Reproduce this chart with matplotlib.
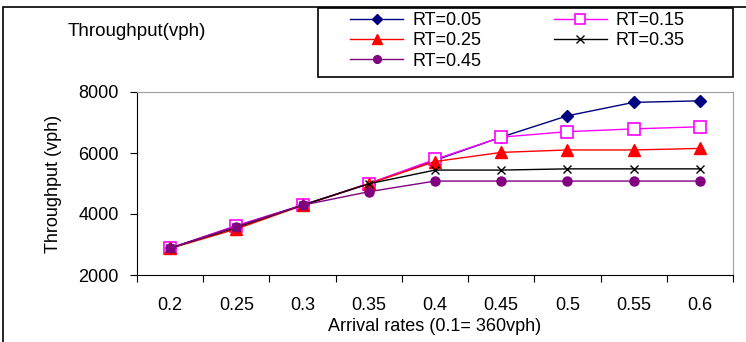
import numpy as np
import matplotlib
matplotlib.use("Agg")
import matplotlib.pyplot as plt
from matplotlib.patches import Rectangle

plt.rcParams["font.family"] = ["Liberation Sans", "DejaVu Sans"]

# arrival rates (categories) and throughput per reaction time
rates = ["0.2", "0.25", "0.3", "0.35", "0.4", "0.45", "0.5", "0.55", "0.6"]
rt_005 = [2880, 3600, 4290, 5000, 5760, 6520, 7220, 7660, 7710]
rt_015 = [2880, 3620, 4290, 5000, 5790, 6520, 6700, 6790, 6860]
rt_025 = [2870, 3510, 4280, 4990, 5720, 6020, 6100, 6100, 6150]
rt_035 = [2880, 3560, 4290, 4990, 5440, 5440, 5480, 5480, 5480]
rt_045 = [2880, 3590, 4290, 4730, 5080, 5080, 5080, 5080, 5080]

fig = plt.figure(figsize=(7.46, 3.42), dpi=100)
ax = fig.add_axes([137 / 746, 67 / 342, 596 / 746, 183 / 342])

x = np.arange(len(rates))
ax.plot(x, rt_005, color="#000080", lw=1.0, marker="D", ms=6, label="RT=0.05")
ax.plot(x, rt_015, color="#FF00FF", lw=1.0, marker="s", ms=8, mfc="white",
        mec="#FF00FF", mew=1.2, label="RT=0.15")
ax.plot(x, rt_025, color="#FF0000", lw=1.0, marker="^", ms=8, label="RT=0.25")
ax.plot(x, rt_035, color="#000000", lw=1.0, marker="x", ms=6, mew=1.0, label="RT=0.35")
ax.plot(x, rt_045, color="#800080", lw=1.0, marker="o", ms=6.5, label="RT=0.45")

ax.set_xlim(-0.5, len(rates) - 0.5)
ax.set_ylim(2000, 8000)
ax.set_yticks([2000, 4000, 6000, 8000])
ax.set_xticks(np.arange(len(rates) + 1) - 0.5)
ax.set_xticklabels([])
ax.set_xticks(x, minor=True)
ax.set_xticklabels(rates, minor=True)
ax.tick_params(axis="x", which="major", direction="out", length=5, color="black")
ax.tick_params(axis="x", which="minor", length=0, pad=16, labelsize=13)
ax.tick_params(axis="y", direction="out", length=5, labelsize=13, pad=8)

ax.spines["top"].set_color("#A0A0A0")
ax.spines["right"].set_color("#A0A0A0")
ax.spines["left"].set_color("black")
ax.spines["bottom"].set_color("black")

ax.set_xlabel("Arrival rates (0.1= 360vph)", fontsize=13, labelpad=3)
ax.set_ylabel("Throughput (vph)", fontsize=13, labelpad=12)

fig.text(68 / 746, 1 - 32 / 342, "Throughput(vph)", fontsize=13.5,
         ha="left", va="center")

# outer frame
fig.patches.append(Rectangle((3 / 746, -0.1), 1.2, 1 - 7 / 342 + 0.1,
                             transform=fig.transFigure, fill=False,
                             edgecolor="black", lw=1.2))

# legend frame
fig.patches.append(Rectangle((318 / 746, 1 - 77 / 342), 415 / 746, 69 / 342,
                             transform=fig.transFigure, fill=False,
                             edgecolor="black", lw=1.2))

h, l = ax.get_legend_handles_labels()
order = [0, 2, 4, 1, 3]
leg = fig.legend([h[i] for i in order], [l[i] for i in order], ncol=2,
                 loc="upper left", bbox_to_anchor=(350 / 746, 1 - 12 / 342),
                 fontsize=13, frameon=False, markerscale=0.85,
                 handlelength=2.95, handletextpad=0.5, columnspacing=4.0,
                 labelspacing=0.18, borderpad=0, borderaxespad=0)

fig.savefig("out.png", dpi=100)
